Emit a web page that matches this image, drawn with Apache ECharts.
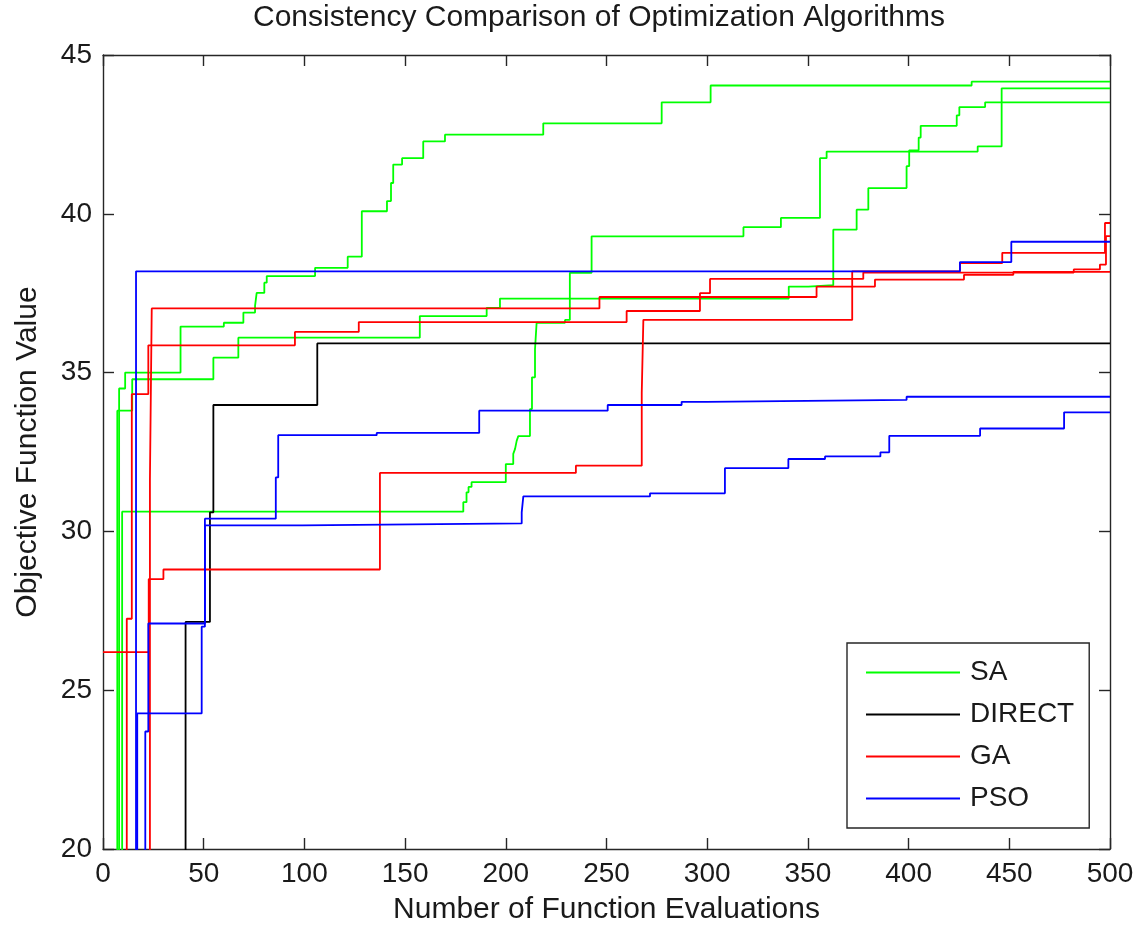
<!DOCTYPE html>
<html>
<head>
<meta charset="utf-8">
<script src="https://cdn.jsdelivr.net/npm/echarts@6/dist/echarts.min.js"></script>
<style>
  html, body { margin: 0; padding: 0; background: #fff; }
  #chart { width: 1139px; height: 930px; }
</style>
</head>
<body>
<div id="chart"></div>
<script>
// Best-so-far objective value per run, as [evaluations, value] change points.
// Each value holds until the next change point. Runs that start under the
// axis floor enter from below (value 10 is just "off the bottom").
const saRun1 = [[8, 10], [8, 34.5], [11, 35.0], [38.5, 36.45], [60, 36.57], [69.7, 36.89], [75.5, 37.1],
  [76.3, 37.51], [80.1, 37.83], [81.3, 38.04], [105.3, 38.3], [121.5, 38.65], [128.5, 40.08], [141, 40.4],
  [143, 40.97], [144.1, 41.55], [148.5, 41.75], [159, 42.28], [169.8, 42.49], [218.6, 42.85],
  [277.4, 43.51], [301.7, 44.04], [431.3, 44.16], [500, 44.16]];
const saRun2 = [[7.1, 10], [7.1, 33.8], [14.5, 34.79], [54.8, 35.47], [67.2, 36.1], [157.3, 36.78],
  [190.5, 37.04], [197.1, 37.33], [340.5, 37.71], [350.2, 37.75], [362.6, 39.5], [374.2, 40.13],
  [380, 40.81], [399, 41.5], [400.3, 42.0], [405, 42.4], [406, 42.77], [423.9, 43.1], [425.2, 43.36],
  [438, 43.51], [500, 43.51]];
const saRun3 = [[9.5, 10], [9.5, 30.62], [178.9, 30.92], [180.5, 31.23], [181.5, 31.4], [183, 31.55],
  [200, 32.12], [203.7, 32.44], [204.6, 32.6], [205.4, 32.85], [206.2, 33.0], [212, 33.85],
  [213, 34.85], [214.5, 35.73], [215.3, 36.57], [229.4, 36.66], [231.8, 38.14], [242.6, 39.29],
  [318, 39.58], [336.6, 39.87], [356, 41.75], [359.3, 41.96], [434.3, 42.12], [446.2, 43.95], [500, 43.95]];

const directRun = [[41, 10], [41, 27.15], [53.1, 30.6], [54.8, 33.98], [106.4, 35.92], [500, 35.92]];

const gaRun1 = [[23.3, 10], [23.3, 31.65], [24.2, 37.02], [246.5, 37.38], [354.3, 37.71], [383.3, 37.93],
  [427.5, 38.08], [452, 38.17], [500, 38.17]];
const gaRun2 = [[11.8, 10], [11.8, 27.25], [14.3, 34.32], [22.5, 35.86], [95.3, 36.28], [127, 36.59],
  [260, 36.94], [296.4, 37.5], [301.4, 37.95], [377.5, 38.15], [482, 38.25], [495, 38.4], [498, 39.3],
  [500, 39.3]];
const gaRun3 = [[0, 26.2], [22.7, 28.5], [30, 28.8], [137.5, 31.84], [234.8, 32.07], [267.5, 34.37],
  [268.3, 36.66], [372, 38.19], [425.5, 38.45], [446.5, 38.77], [497.5, 39.71], [500, 39.71]];

const psoRun1 = [[16.4, 10], [16.4, 38.19], [425.5, 38.48], [451, 39.12], [500, 39.12]];
const psoRun2 = [[17, 10], [17, 24.27], [49, 27.0], [50.6, 30.4], [85.8, 31.7], [87, 33.03], [135.9, 33.1],
  [186.8, 33.8], [250.6, 33.98], [287.3, 34.08], [299.7, 34.14], [399, 34.24], [500, 34.24]];
const psoRun3 = [[21, 10], [21, 23.7], [22.5, 27.1], [50.6, 30.19], [99, 30.25], [207.9, 30.6],
  [208.7, 31.1], [271.6, 31.2], [308.8, 31.99], [340.3, 32.28], [358.5, 32.36], [386, 32.49],
  [390.4, 33.01], [435.5, 33.24], [477.2, 33.75], [500, 33.75]];

const algorithms = ['SA', 'DIRECT', 'GA', 'PSO'];
const colors = { SA: '#00ff00', DIRECT: '#000000', GA: '#ff0000', PSO: '#0000ff' };
const runs = [
  ['SA', saRun1], ['SA', saRun2], ['SA', saRun3],
  ['DIRECT', directRun],
  ['GA', gaRun1], ['GA', gaRun2], ['GA', gaRun3],
  ['PSO', psoRun1], ['PSO', psoRun2], ['PSO', psoRun3]
];

const xTicks = { min: 0, max: 500, interval: 50 };
const yTicks = { min: 20, max: 45, interval: 5 };

const FONT = 'Liberation Sans, Arial, sans-serif';
const INK = '#1a1a1a';
const AXIS = '#262626';

const chart = echarts.init(document.getElementById('chart'), null, { renderer: 'canvas' });

// Frame axes: ticks point into the plot on all four sides.
const boxAxis = (pos) => ({
  position: pos,
  axisLine: { show: true, onZero: false, lineStyle: { color: AXIS, width: 1.4 } },
  axisTick: { show: true, inside: true, length: 11, lineStyle: { color: AXIS, width: 1.4 } },
  splitLine: { show: false }
});

chart.setOption({
  animation: false,
  backgroundColor: '#ffffff',
  title: {
    text: 'Consistency Comparison of Optimization Algorithms',
    left: 248,
    top: -2,
    textStyle: { fontFamily: FONT, fontSize: 30, fontWeight: 'normal', color: INK }
  },
  grid: { left: 103, right: 29, top: 55, bottom: 79, containLabel: false },
  legend: {
    data: algorithms,
    orient: 'vertical',
    left: 847,
    top: 643,
    icon: 'rect',
    itemWidth: 94,
    itemHeight: 2,
    itemGap: 14,
    padding: [15.5, 15, 15.5, 19],
    borderColor: AXIS,
    borderWidth: 1.4,
    backgroundColor: '#fff',
    textStyle: { fontFamily: FONT, fontSize: 28, color: INK, padding: [0, 0, 0, 5] }
  },
  xAxis: [
    Object.assign(boxAxis('bottom'), {
      type: 'value', min: xTicks.min, max: xTicks.max, interval: xTicks.interval,
      name: 'Number of Function Evaluations', nameLocation: 'middle', nameGap: 46,
      nameTextStyle: { fontFamily: FONT, fontSize: 30, color: INK },
      axisLabel: { fontFamily: FONT, fontSize: 28, color: INK, margin: 11 }
    }),
    Object.assign(boxAxis('top'), {
      type: 'value', min: xTicks.min, max: xTicks.max, interval: xTicks.interval,
      axisLabel: { show: false }
    })
  ],
  yAxis: [
    Object.assign(boxAxis('left'), {
      type: 'value', min: yTicks.min, max: yTicks.max, interval: yTicks.interval,
      name: 'Objective Function Value', nameLocation: 'middle', nameGap: 60,
      nameTextStyle: { fontFamily: FONT, fontSize: 30, color: INK },
      axisLabel: { fontFamily: FONT, fontSize: 28, color: INK, margin: 11 }
    }),
    Object.assign(boxAxis('right'), {
      type: 'value', min: yTicks.min, max: yTicks.max, interval: yTicks.interval,
      axisLabel: { show: false }
    })
  ],
  series: runs.map(([name, data]) => ({
    name: name,
    type: 'line',
    step: 'end',
    data: data,
    xAxisIndex: 0,
    yAxisIndex: 0,
    symbol: 'none',
    clip: true,
    color: colors[name],
    lineStyle: { color: colors[name], width: 1.8 }
  }))
});
</script>
</body>
</html>
